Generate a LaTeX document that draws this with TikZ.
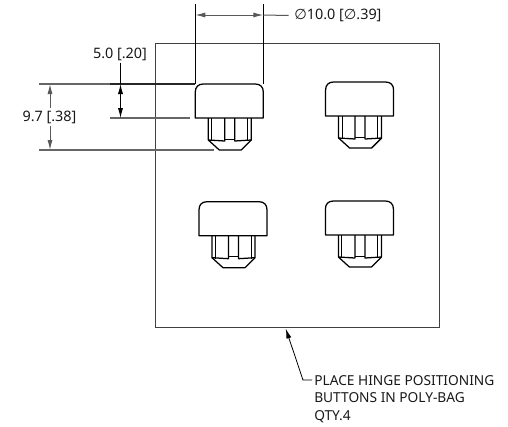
\documentclass[tikz,border=0pt]{standalone}
\usepackage{fontspec}
\setmainfont{Noto Sans}
\newfontfamily\symfont{DejaVu Sans}
\usetikzlibrary{arrows.meta}
\tikzset{
  partline/.style={draw=black,line width=0.95pt,line join=round},
  thinline/.style={draw=black,line width=0.65pt,line join=round},
  boxline/.style={draw=black!75,line width=0.7pt},
  extline/.style={draw=black!60,line width=0.8pt},
  darkline/.style={draw=black!85,line width=0.85pt},
  dimline/.style={draw=black,line width=0.6pt},
  greydim/.style={draw=black!65,line width=0.75pt},
  tipboth/.style={{Latex[length=7.5pt,width=3.8pt]}-{Latex[length=7.5pt,width=3.8pt]}},
  tipstart/.style={{Latex[length=7.5pt,width=3.8pt]}-},
  tipend/.style={-{Latex[length=7.5pt,width=3.8pt]}},
  dimtext/.style={font=\fontsize{10.8pt}{13pt}\selectfont,inner sep=0pt,text=black!90},
  notetext/.style={font=\fontsize{10.3pt}{13.1pt}\selectfont,inner sep=0pt,text=black!90},
}
\newcommand{\dia}{{\symfont ∅}}
\newcommand{\hingebutton}[2]{%
  \begin{scope}[shift={(#1,#2)}]
    \draw[partline,fill=white] (0,34) -- (0,8) .. controls (0,3) and (3,0) .. (8,0) -- (60,0) .. controls (65,0) and (68,3) .. (68,8) -- (68,34) -- cycle;
    \draw[partline] (13,34) -- (13,56) -- (24,66) -- (46,66) -- (56,56) -- (56,34);
    \draw[thinline] (16.5,34) -- (16.5,57);
    \draw[partline] (29.5,34) -- (29.5,57) -- (13,56);
    \draw[partline] (39.5,34) -- (39.5,57) -- (56,56);
    \draw[thinline] (52,34) -- (52,57);
    \draw[thinline] (29.5,55) -- (39.5,55);
  \end{scope}}
\begin{document}
\begin{tikzpicture}[x=0.75pt,y=-0.75pt]
\useasboundingbox (0,0) rectangle (508,426);
\draw[boxline] (155,43) rectangle (439,327.5);
\hingebutton{195.3}{84}
\hingebutton{325.6}{82}
\hingebutton{199}{201.7}
\hingebutton{325.4}{201}
% diameter dimension
\coordinate (wl0) at (195.3,4); \coordinate (wl1) at (195.3,84);
\coordinate (wr0) at (263.3,4); \coordinate (wr1) at (263.3,84);
\coordinate (wa) at (195.3,15); \coordinate (wb) at (263.3,15);
\node[dimtext,anchor=west] (dial) at (294,15.5) {\dia10.0 [\dia.39]};
\draw[dimline] (wl0) -- (wl1);
\draw[dimline] (wr0) -- (wr1);
\draw[greydim,tipboth] (wa) -- (wb);
\draw[greydim] (wb) -- ([xshift=-4pt]dial.west);
% 5.0 dimension
\node[dimtext] (h5) at (120,54) {5.0 [.20]};
\coordinate (e9a) at (39,84); \coordinate (e5a) at (110,84); \coordinate (e5b) at (195.3,84);
\coordinate (e5c) at (110,118); \coordinate (e5d) at (190,118);
\coordinate (a5) at (120.5,84); \coordinate (b5) at (120.5,118);
\draw[extline] (e9a) -- (e5a);
\draw[darkline] (e5a) -- (e5b);
\draw[extline] (e5c) -- (e5d);
\draw[dimline,tipboth] (a5) -- (b5);
\draw[dimline] ([yshift=-1.5pt]h5.south -| a5) -- (a5);
% 9.7 dimension
\node[dimtext] (h9) at (49.5,117) {9.7 [.38]};
\coordinate (e9c) at (39,150); \coordinate (e9d) at (214,150);
\coordinate (a9) at (50,84); \coordinate (b9) at (50,150);
\draw[extline] (e9c) -- (e9d);
\draw[greydim,tipstart] (a9) -- ([yshift=1.5pt]a9 |- h9.north);
\draw[greydim,tipend] ([yshift=-1.5pt]b9 |- h9.south) -- (b9);
% leader
\coordinate (tip) at (285.7,328.5);
\coordinate (lk) at (303,380);
\node[notetext,anchor=north west,align=left] (note) at (314,375) {PLACE HINGE POSITIONING\\BUTTONS IN POLY-BAG\\QTY.4};
\draw[dimline,tipstart] (tip) -- (lk) -- ([xshift=-1.5pt]note.west |- lk);
\end{tikzpicture}
\end{document}
